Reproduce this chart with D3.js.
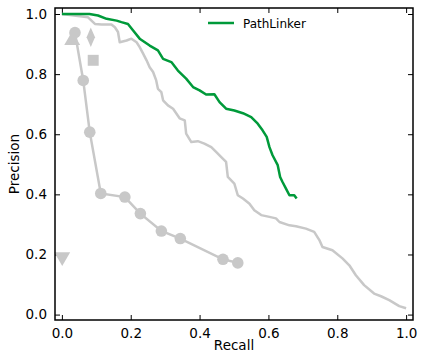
<!DOCTYPE html>
<html><head><meta charset="utf-8">
<script src="https://cdn.jsdelivr.net/npm/d3@7"></script>
<style>body{margin:0;background:#fff}svg{display:block}</style>
</head><body><svg id="c" width="421" height="358"></svg>
<script>
// Series: PathLinker (green)
const pathLinkerRecall = [0.0,0.08,0.105,0.13,0.159,0.173,0.192,0.207,0.226,0.255,0.279,0.294,0.318,0.337,0.361,0.381,0.40,0.419,0.443,0.458,0.477,0.501,0.526,0.55,0.569,0.583,0.595,0.603,0.612,0.627,0.634,0.641,0.651,0.661,0.675,0.682];
const pathLinkerPrecision = [1.0,1.0,0.995,0.984,0.978,0.973,0.967,0.945,0.918,0.895,0.879,0.851,0.840,0.812,0.785,0.757,0.746,0.732,0.733,0.707,0.685,0.679,0.670,0.657,0.635,0.613,0.591,0.557,0.530,0.497,0.458,0.441,0.419,0.397,0.397,0.386];
// Gray stepped curve
const grayRecall = [0.0,0.076,0.096,0.115,0.144,0.154,0.163,0.168,0.188,0.202,0.217,0.226,0.236,0.246,0.255,0.265,0.274,0.279,0.289,0.294,0.308,0.323,0.342,0.357,0.361,0.376,0.395,0.414,0.434,0.448,0.463,0.477,0.482,0.501,0.511,0.526,0.545,0.559,0.579,0.603,0.622,0.632,0.661,0.680,0.709,0.733,0.748,0.757,0.786,0.815,0.835,0.854,0.878,0.907,0.927,0.951,0.980,1.0];
const grayPrecision = [1.0,0.989,0.967,0.965,0.965,0.956,0.940,0.906,0.912,0.918,0.906,0.890,0.868,0.846,0.823,0.807,0.779,0.751,0.740,0.713,0.696,0.685,0.653,0.646,0.602,0.574,0.577,0.569,0.557,0.541,0.524,0.508,0.458,0.436,0.397,0.386,0.369,0.347,0.331,0.325,0.320,0.308,0.297,0.294,0.286,0.275,0.248,0.225,0.214,0.187,0.164,0.131,0.098,0.070,0.061,0.048,0.028,0.021];
// Gray circle-marker series
const circleRecall = [0.038,0.062,0.081,0.113,0.183,0.228,0.289,0.344,0.468,0.511];
const circlePrecision = [0.938,0.779,0.607,0.403,0.391,0.336,0.278,0.253,0.184,0.172];
// Single-point methods
const singleNames = ["triangle-up","diamond","square","triangle-down"];
const singleRecall = [0.030,0.084,0.091,0.001];
const singlePrecision = [0.912,0.923,0.846,0.192];
const tickValues = [0.0,0.2,0.4,0.6,0.8,1.0];
const legendLabels = ["PathLinker"];

const svg = d3.select("#c");
const L=55,R=413,T=8,B=320;
const x = d3.scaleLinear().domain([-0.02,1.02]).range([L,R]);
const y = d3.scaleLinear().domain([-0.018,1.02]).range([B,T]);
const gray="#c8c8c8", green="#009a3a";
const fmt = d3.format(".1f");
const font = "DejaVu Sans, sans-serif";

// axes with inward ticks
const tl=5;
svg.append("g").attr("transform",`translate(0,${B})`)
  .call(d3.axisBottom(x).tickValues(tickValues).tickFormat(fmt).tickSizeInner(-tl).tickSizeOuter(0).tickPadding(8))
  .call(g=>{g.select(".domain").remove();g.selectAll("text").attr("font-family",font).attr("font-size",13.5).attr("fill","#000");g.selectAll("line").attr("stroke","#000");});
svg.append("g").attr("transform",`translate(0,${T})`)
  .call(d3.axisTop(x).tickValues(tickValues).tickFormat("").tickSizeInner(-tl).tickSizeOuter(0))
  .call(g=>{g.select(".domain").remove();g.selectAll("line").attr("stroke","#000");});
svg.append("g").attr("transform",`translate(${L},0)`)
  .call(d3.axisLeft(y).tickValues(tickValues).tickFormat(fmt).tickSizeInner(-tl).tickSizeOuter(0).tickPadding(8))
  .call(g=>{g.select(".domain").remove();g.selectAll("text").attr("font-family",font).attr("font-size",13.5).attr("fill","#000");g.selectAll("line").attr("stroke","#000");});
svg.append("g").attr("transform",`translate(${R},0)`)
  .call(d3.axisRight(y).tickValues(tickValues).tickFormat("").tickSizeInner(-tl).tickSizeOuter(0))
  .call(g=>{g.select(".domain").remove();g.selectAll("line").attr("stroke","#000");});

const line = d3.line().x(d=>x(d[0])).y(d=>y(d[1]));
const clip = svg.append("clipPath").attr("id","clip").append("rect").attr("x",L).attr("y",T).attr("width",R-L).attr("height",B-T);

// gray curve
svg.append("path").datum(grayRecall.map((r,i)=>[r,grayPrecision[i]]))
  .attr("d",line).attr("fill","none").attr("stroke",gray).attr("stroke-width",2.5).attr("stroke-linejoin","round");

// single markers
const sym = {"triangle-up":d3.symbolTriangle,"diamond":d3.symbolDiamond,"square":d3.symbolSquare,"triangle-down":d3.symbolTriangle};
singleNames.forEach((n,i)=>{
  const size = n==="square"?120:(n==="diamond"?110:110);
  let tr = `translate(${x(singleRecall[i])},${y(singlePrecision[i])})`;
  if(n==="triangle-down") tr += " rotate(180)";
  if(n==="diamond") tr += " scale(0.75,1)";
  svg.append("path").attr("d",d3.symbol().type(sym[n]).size(size)()).attr("transform",tr).attr("fill",gray);
});

// circle series
const cpts = circleRecall.map((r,i)=>[r,circlePrecision[i]]);
svg.append("path").datum(cpts).attr("d",line).attr("fill","none").attr("stroke",gray).attr("stroke-width",2.5);
svg.selectAll("circle.m").data(cpts).join("circle").attr("class","m")
  .attr("cx",d=>x(d[0])).attr("cy",d=>y(d[1])).attr("r",5.8).attr("fill",gray);

// green curve
svg.append("path").datum(pathLinkerRecall.map((r,i)=>[r,pathLinkerPrecision[i]]))
  .attr("d",line).attr("fill","none").attr("stroke",green).attr("stroke-width",2.5).attr("stroke-linejoin","round").attr("clip-path","url(#clip)");

// frame
svg.append("rect").attr("x",L).attr("y",T).attr("width",R-L).attr("height",B-T).attr("fill","none").attr("stroke","#000").attr("stroke-width",1.5);

// legend
svg.append("line").attr("x1",208).attr("x2",234).attr("y1",23).attr("y2",23).attr("stroke",green).attr("stroke-width",2.5);
svg.append("text").attr("x",243).attr("y",27.5).text(legendLabels[0]).attr("font-family",font).attr("font-size",12);

// axis labels
svg.append("text").attr("x",(L+R)/2).attr("y",350).attr("text-anchor","middle").attr("font-family",font).attr("font-size",13.5).text("Recall");
svg.append("text").attr("transform",`translate(19,${(T+B)/2}) rotate(-90)`).attr("text-anchor","middle").attr("font-family",font).attr("font-size",13.5).text("Precision");
</script></body></html>
